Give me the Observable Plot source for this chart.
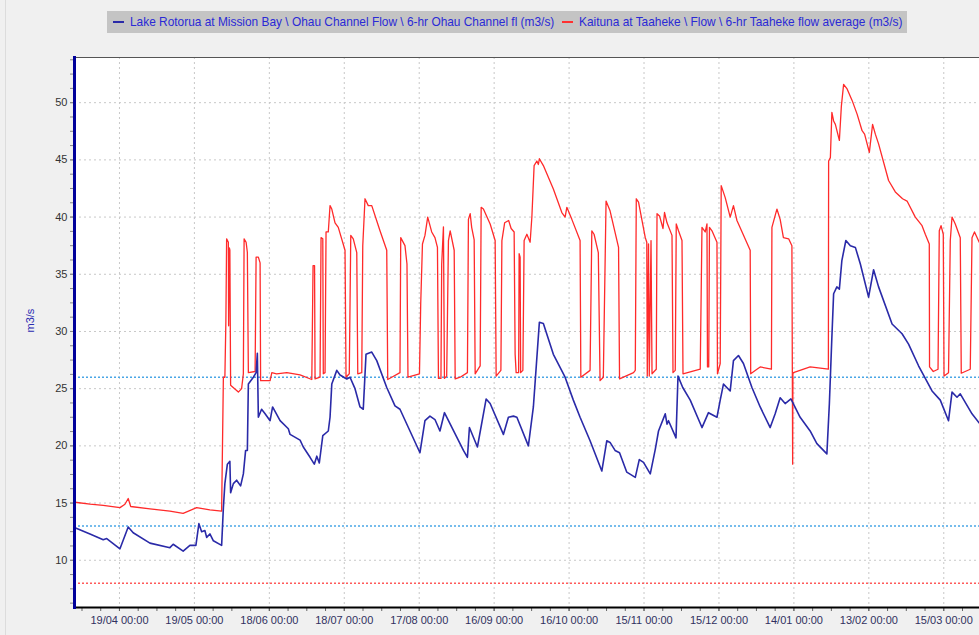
<!DOCTYPE html>
<html><head><meta charset="utf-8">
<script src="https://cdn.jsdelivr.net/npm/d3@7"></script>
<script src="https://cdn.jsdelivr.net/npm/@observablehq/plot@0.6"></script>
<style>
html,body{margin:0;padding:0;background:#f0f0f0;}
body{width:979px;height:635px;overflow:hidden;position:relative;font-family:"Liberation Sans",Arial,sans-serif;}
#edge{position:absolute;left:5px;top:0;width:1px;height:635px;background:#dcdcdc;}
#legend{position:absolute;left:107px;top:11px;width:800px;height:22px;background:#c4c4c4;}
.sw{position:absolute;top:10px;width:11px;height:2px;}
.lt{position:absolute;top:4px;font-size:11.9px;color:#2a2ad6;white-space:nowrap;}
#chart{position:absolute;left:0;top:40px;}
</style></head><body>
<div id="edge"></div>
<div id="legend">
  <div class="sw" style="left:6px;background:#2a2aa8"></div>
  <div class="lt" id="l1" style="left:23px"></div>
  <div class="sw" style="left:455px;background:#ff3030"></div>
  <div class="lt" id="l2" style="left:472px"></div>
</div>
<div id="chart"></div>
<script>
// ---- data ----
const seriesNames = [
  "Lake Rotorua at Mission Bay \\ Ohau Channel Flow \\ 6-hr Ohau Channel fl (m3/s)",
  "Kaituna at Taaheke \\ Flow \\ 6-hr Taaheke flow average (m3/s)"
];
const startDate = "2016-04-01";
// [days since startDate, m3/s]
const ohau = [[0.2,12.85],[6.2,12.3],[11.5,11.8],[12.9,11.9],[18.2,11.0],[21.5,12.9],[23.5,12.4],[30.2,11.5],[38.2,11.1],[39.5,11.4],[43.5,10.8],[46.2,11.3],[48.6,11.3],[49.8,13.2],[50.9,12.5],[52.2,12.6],[52.9,12.0],[54.2,12.3],[55.6,11.7],[58.9,11.3],[59.6,14.6],[60.2,16.7],[61.2,18.4],[62.2,18.65],[62.5,15.9],[63.6,16.7],[64.9,17.0],[66.5,16.5],[67.6,17.55],[68.5,19.6],[69.2,19.6],[69.6,25.4],[71.6,26.0],[72.7,26.4],[73.2,28.1],[73.6,22.5],[74.9,23.2],[76.3,22.8],[78.3,22.2],[79.3,23.4],[82.3,22.2],[85.6,21.5],[86.3,21.0],[90.3,20.5],[91.6,19.9],[94.3,19.0],[96.0,18.4],[97.0,19.1],[98.0,18.5],[99.4,20.9],[101.6,21.3],[102.3,22.5],[103.0,25.4],[105.0,26.6],[106.3,26.2],[109.0,25.85],[110.3,26.0],[112.3,25.0],[114.3,23.4],[115.6,23.2],[116.7,28.0],[119.0,28.2],[121.0,27.45],[125.0,25.1],[128.3,23.5],[130.3,23.2],[138.3,19.4],[140.3,22.2],[142.3,22.6],[144.3,22.3],[146.3,21.3],[148.1,22.9],[155.7,19.6],[157.3,19.0],[158.1,21.6],[159.7,20.75],[161.3,19.9],[164.8,24.1],[166.4,23.7],[171.7,21.0],[173.7,22.5],[175.7,22.6],[177.1,22.5],[181.7,20.0],[183.7,23.4],[186.1,30.8],[187.7,30.7],[191.7,28.0],[196.4,26.0],[199.7,24.0],[202.4,22.5],[206.4,20.45],[211.1,17.8],[213.1,20.45],[214.4,20.3],[216.4,19.6],[218.2,19.4],[221.1,17.7],[224.5,17.25],[226.1,18.8],[227.8,18.55],[230.5,17.55],[232.5,19.7],[233.8,21.3],[236.5,22.8],[237.2,21.9],[237.8,22.2],[240.8,20.7],[241.6,26.1],[243.5,25.1],[246.5,24.0],[251.2,21.6],[253.8,22.9],[257.2,22.5],[258.5,24.0],[259.8,25.4],[262.5,24.8],[263.8,27.45],[265.8,27.9],[267.8,27.2],[271.2,25.1],[274.5,23.4],[278.5,21.6],[280.5,22.8],[282.5,24.2],[284.5,23.7],[286.8,24.1],[290.5,22.5],[294.5,21.3],[297.2,20.2],[301.2,19.3],[302.2,23.7],[303.2,29.5],[303.9,33.3],[305.2,33.9],[306.2,33.7],[307.2,36.2],[308.8,37.95],[310.6,37.5],[312.6,37.35],[314.6,35.9],[317.9,33.0],[319.9,35.4],[321.9,33.9],[327.3,30.65],[331.3,29.8],[333.9,28.9],[337.9,27.0],[343.3,24.8],[346.6,24.0],[349.9,22.2],[351.3,24.7],[353.3,24.25],[354.6,24.55],[359.3,22.8],[362.2,22.0]];
const kaituna = [[0.2,15.07],[6.2,14.9],[11.5,14.8],[18.2,14.6],[20.2,14.9],[21.5,15.4],[22.5,14.7],[30.2,14.5],[38.2,14.3],[43.5,14.1],[48.9,14.6],[54.2,14.4],[58.9,14.3],[59.6,26.0],[60.2,26.0],[60.6,30.9],[60.9,38.1],[61.6,37.8],[61.7,30.5],[62.0,37.3],[62.2,37.1],[62.5,25.3],[65.6,24.7],[66.9,25.0],[67.6,26.3],[67.9,38.1],[68.7,37.8],[69.2,36.9],[69.6,26.4],[72.3,26.5],[72.7,36.5],[73.6,36.5],[74.3,36.0],[74.5,25.7],[78.3,25.7],[79.0,26.4],[80.9,26.3],[85.0,26.4],[90.3,26.2],[95.0,25.8],[95.5,35.75],[96.1,35.75],[96.3,25.85],[98.3,26.0],[98.7,38.2],[99.4,38.1],[99.6,26.3],[100.3,26.4],[100.7,38.7],[101.6,38.7],[102.3,41.0],[103.0,40.7],[104.3,39.5],[105.6,39.1],[108.3,37.1],[108.7,26.0],[110.0,26.3],[110.6,38.4],[111.6,38.1],[113.0,36.9],[113.4,26.3],[115.0,26.4],[115.4,37.5],[116.3,41.6],[117.6,41.0],[119.0,41.0],[122.3,38.8],[125.0,37.1],[125.4,25.8],[127.0,26.0],[130.3,26.4],[130.6,38.2],[132.3,37.5],[133.1,35.9],[133.5,26.0],[138.1,26.3],[138.6,32.4],[139.3,37.65],[140.3,38.4],[141.4,40.0],[143.0,38.7],[144.3,38.2],[145.3,37.35],[145.7,25.9],[146.7,25.9],[147.0,35.9],[147.7,39.15],[148.1,25.9],[149.0,26.1],[149.7,37.95],[150.4,38.8],[152.0,37.1],[152.4,25.85],[154.4,26.0],[157.3,26.4],[157.7,39.8],[158.4,40.3],[159.0,39.1],[160.0,38.0],[160.4,26.3],[162.4,27.0],[162.8,40.85],[163.7,40.7],[166.4,39.4],[168.4,37.95],[168.8,26.1],[170.7,26.6],[171.1,37.95],[172.2,39.5],[173.8,39.7],[174.8,39.0],[176.0,38.7],[176.4,28.0],[176.8,26.4],[177.8,26.4],[178.0,36.8],[178.4,36.5],[178.6,26.4],[179.5,26.6],[180.0,37.95],[181.1,38.5],[182.4,37.8],[183.1,40.0],[184.0,44.5],[185.1,44.9],[185.7,44.6],[186.1,45.1],[187.7,44.5],[191.7,42.45],[195.1,40.4],[196.4,40.0],[197.1,40.85],[199.1,39.8],[202.4,37.95],[202.7,26.0],[206.4,26.6],[207.1,38.8],[208.0,38.5],[209.7,36.9],[210.4,25.7],[211.7,26.0],[212.8,41.4],[214.4,40.55],[217.8,37.35],[218.2,25.85],[223.8,26.4],[224.5,26.6],[224.9,41.6],[225.8,41.3],[228.5,38.2],[229.1,37.8],[229.3,26.1],[229.8,37.65],[230.1,26.1],[230.8,37.95],[231.2,26.3],[232.9,26.7],[233.2,40.3],[234.2,40.1],[235.6,39.0],[236.2,40.4],[237.2,39.5],[239.2,38.4],[239.6,26.4],[240.5,26.6],[240.9,39.4],[241.8,38.8],[243.2,37.95],[243.6,26.3],[250.5,26.7],[251.2,39.1],[252.5,38.7],[253.2,39.4],[253.4,26.9],[253.9,26.9],[254.2,39.1],[255.2,38.8],[257.2,37.8],[257.4,26.3],[258.5,27.2],[258.9,42.75],[260.5,41.7],[262.5,40.0],[263.8,41.0],[265.2,39.7],[270.5,37.1],[270.7,26.3],[273.2,26.7],[274.5,26.9],[279.0,26.7],[279.2,39.1],[281.2,40.7],[282.5,39.8],[283.8,38.2],[285.9,38.1],[287.2,37.5],[287.5,18.4],[287.6,26.3],[287.8,26.4],[294.5,26.9],[301.8,26.7],[301.9,44.9],[302.6,45.2],[303.2,49.15],[303.9,48.4],[304.6,48.1],[306.2,46.7],[307.0,49.7],[307.9,51.6],[309.3,51.2],[311.3,50.2],[313.3,49.0],[315.3,47.55],[316.3,47.25],[318.2,45.65],[319.5,48.1],[320.6,47.25],[321.9,46.4],[325.9,43.2],[328.6,42.2],[331.5,41.6],[333.3,41.4],[336.6,40.0],[339.3,39.25],[340.6,38.5],[342.2,37.65],[342.3,26.9],[343.8,26.5],[345.7,26.7],[346.2,38.8],[346.9,39.25],[347.8,38.5],[348.1,26.1],[349.9,26.4],[350.6,37.95],[351.3,40.0],[352.6,39.4],[354.6,38.2],[355.0,26.35],[358.6,26.7],[359.3,38.2],[360.3,38.7],[362.2,37.8]];
const blueRefs = [26, 13];
const redRefs = [8];
const xTickDates = ["2016-04-19","2016-05-19","2016-06-18","2016-07-18","2016-08-17","2016-09-16","2016-10-16","2016-11-15","2016-12-15","2017-01-14","2017-02-13","2017-03-15"];
const yTicks = [10, 15, 20, 25, 30, 35, 40, 45, 50];
const yLabel = "m3/s";

// ---- build ----
document.getElementById("l1").textContent = seriesNames[0];
document.getElementById("l2").textContent = seriesNames[1];
const t0 = new Date(startDate + "T00:00:00Z").getTime();
const toDate = d => new Date(t0 + d * 864e5);
const ohauData = ohau.map(([d, v]) => ({date: toDate(d), value: v}));
const kaitunaData = kaituna.map(([d, v]) => ({date: toDate(d), value: v}));
const majorX = xTickDates.map(s => new Date(s + "T00:00:00Z"));
const minorX = d3.range(3, 363, 7.5).map(toDate);
const minorY = d3.range(6.25, 54, 1.25);
const fmt = d3.utcFormat("%d/%m %H:%M");

const chart = Plot.plot({
  width: 979, height: 595,
  marginLeft: 74, marginRight: 0, marginTop: 17, marginBottom: 28,
  x: {type: "utc", domain: [toDate(0), toDate(362.3)], label: null},
  y: {domain: [5.87, 53.95], label: null},
  style: {fontFamily: "'Liberation Sans', Arial, sans-serif", fontSize: "11px", background: "transparent", overflow: "visible"},
  marks: [
    Plot.frame({fill: "white", stroke: null}),
    Plot.gridX(majorX, {stroke: "#c8c8c8", strokeOpacity: 1, strokeDasharray: "2,3"}),
    Plot.gridY(yTicks, {stroke: "#c8c8c8", strokeOpacity: 1, strokeDasharray: "2,3"}),
    Plot.ruleY(blueRefs, {stroke: "#4aa6e6", strokeDasharray: "2,2", strokeWidth: 1.5}),
    Plot.ruleY(redRefs, {stroke: "#ff5a5a", strokeDasharray: "2,2", strokeWidth: 1.5}),
    Plot.line(kaitunaData, {x: "date", y: "value", stroke: "#ff2a2a", strokeWidth: 1.3}),
    Plot.line(ohauData, {x: "date", y: "value", stroke: "#2a2aa8", strokeWidth: 1.6}),
    Plot.axisX(minorX, {tickSize: 4, tickFormat: () => "", stroke: "#666", label: null}),
    Plot.axisX(majorX, {tickSize: 4, tickPadding: 5, tickFormat: fmt, fill: "#303060", stroke: "#666", label: null}),
    Plot.axisY(minorY, {tickSize: 4, tickFormat: () => "", stroke: "#888", label: null}),
    Plot.axisY(yTicks, {tickSize: 4, tickPadding: 3, fill: "#333", stroke: "#888", label: null}),
    Plot.text([yLabel], {frameAnchor: "left", dx: -44, rotate: -90, fill: "#2a2ab0", fontSize: 11}),
    Plot.frame({anchor: "top", stroke: "#555", strokeWidth: 1}),
    Plot.frame({anchor: "bottom", stroke: "#000", strokeWidth: 2}),
    Plot.frame({anchor: "left", stroke: "#00009a", strokeWidth: 3})
  ]
});
document.getElementById("chart").appendChild(chart);
</script>
</body></html>
